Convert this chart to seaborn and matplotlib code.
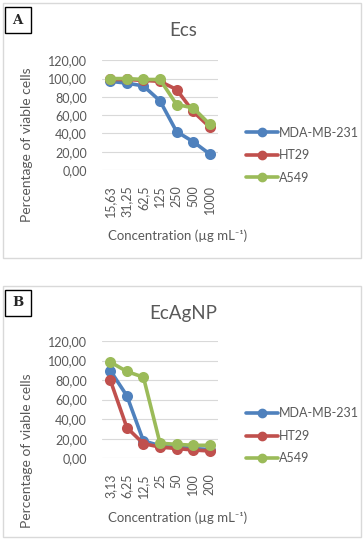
import matplotlib
matplotlib.use('Agg')
import matplotlib.pyplot as plt
import seaborn as sns
import pandas as pd
from matplotlib.patches import Rectangle

# data
lines = ['MDA-MB-231', 'HT29', 'A549']
colors = ['#4F81BD', '#C0504D', '#9BBB59']

conc_a = ['15,63', '31,25', '62,5', '125', '250', '500', '1000']
mda_a = [97, 95, 92, 75.6, 42, 31, 17.5]
ht29_a = [99, 99, 98, 97, 88, 64, 47]
a549_a = [100, 100, 99, 99, 71.6, 68, 50]

conc_b = ['3,13', '6,25', '12,5', '25', '50', '100', '200']
mda_b = [89.8, 64, 17.7, 13, 12, 10, 9]
ht29_b = [80, 31.4, 15, 11.5, 10, 8.5, 7.5]
a549_b = [98.5, 88.8, 83, 15.4, 14.3, 13.3, 13.3]

sns.set_style('white')
plt.rcParams['font.family'] = ['Lato', 'DejaVu Sans']
gray = '#595959'

fig = plt.figure(figsize=(3.63, 5.39), dpi=100)
W, H = 363, 539


def fx(px):
    return px / W


def fy(py):
    return 1 - py / H


def make_df(conc, series):
    rows = []
    for name, vals in zip(lines, series):
        for c, v in zip(conc, vals):
            rows.append({'conc': c, 'viab': v, 'line': name})
    return pd.DataFrame(rows)


# letter, title, categories, series, frame top/bottom, axes top/bottom,
# ylabel centre, xlabel y (px)
panels = [
    ('A', 'Ecs', conc_a, [mda_a, ht29_a, a549_a], 3, 258, 60.3, 170, 145, 236),
    ('B', 'EcAgNP', conc_b, [mda_b, ht29_b, a549_b], 285.5, 537, 341, 458.3, 451, 518),
]

for letter, title, conc, series, box_top, box_bot, ax_top, ax_bot, ylab_y, xlab_y in panels:
    # outer panel frame
    fig.patches.append(Rectangle((fx(3), fy(box_bot)), fx(358), (box_bot - box_top) / H,
                                 transform=fig.transFigure, fill=False,
                                 edgecolor='#D9D9D9', linewidth=1))
    # letter box
    fig.patches.append(Rectangle((fx(4.5), fy(box_top + 30)), fx(26), 26 / H,
                                 transform=fig.transFigure, facecolor='white',
                                 edgecolor='black', linewidth=1))
    fig.text(fx(17.5), fy(box_top + 17), letter, ha='center', va='center',
             fontsize=9.5, fontweight='bold', family='DejaVu Serif')

    ax = fig.add_axes([fx(102), fy(ax_bot), fx(116), (ax_bot - ax_top) / H])
    df = make_df(conc, series)
    sns.pointplot(data=df, x='conc', y='viab', hue='line', order=conc,
                  hue_order=lines, palette=colors, markers='o', errorbar=None,
                  markersize=6, linewidth=2.6, ax=ax, legend=False)
    ax.set_ylim(0, 120)
    ax.set_yticks(range(0, 121, 20))
    ax.set_yticklabels([f'{v},00' for v in range(0, 121, 20)])
    ax.set_xlim(-0.5, len(conc) - 0.5)
    ax.grid(axis='y', color='#D9D9D9', linewidth=0.8)
    ax.set_axisbelow(True)
    for s in ax.spines.values():
        s.set_visible(False)
    ax.tick_params(axis='both', length=0, labelsize=9, colors=gray)
    ax.tick_params(axis='y', pad=11)
    ax.tick_params(axis='x', labelrotation=90, pad=11)
    ax.set_xlabel('')
    ax.set_ylabel('')

    fig.text(fx(183), fy(box_top + 28), title, ha='center', va='center',
             fontsize=13.5, color=gray)
    fig.text(fx(178), fy(xlab_y), 'Concentration (µg mL⁻¹)',
             ha='center', va='center', fontsize=9.5, color=gray)
    fig.text(fx(27), fy(ylab_y), 'Percentage of viable cells',
             ha='center', va='center', rotation=90, fontsize=10, color=gray)

    handles = [plt.Line2D([], [], color=c, marker='o', markersize=6, linewidth=2.6)
               for c in colors]
    leg = fig.legend(handles, lines, loc='upper left',
                     bbox_to_anchor=(fx(240), fy(ax_top + 60)),
                     frameon=False, fontsize=9, handlelength=2.5,
                     handletextpad=0.1, labelspacing=0.85, borderpad=0)
    for t in leg.get_texts():
        t.set_color(gray)

fig.savefig('out.png', dpi=100)
